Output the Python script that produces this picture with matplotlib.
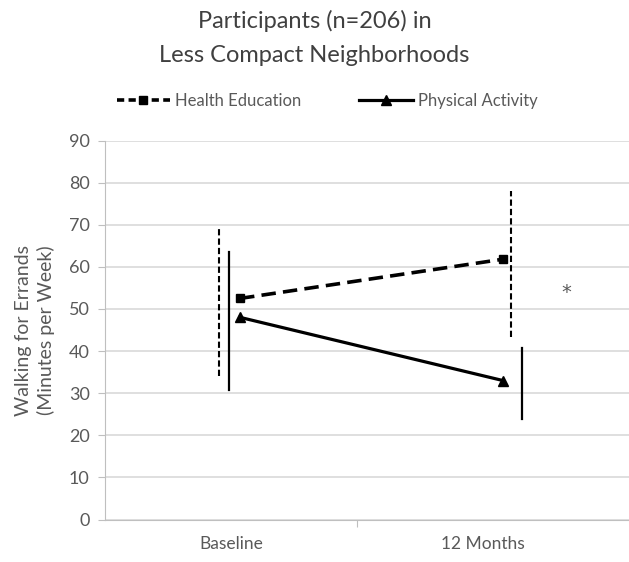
import matplotlib
matplotlib.use("Agg")
import matplotlib.pyplot as plt
from matplotlib.lines import Line2D

# Data
categories = ["Baseline", "12 Months"]
health_ed = [52.5, 61.8]
physical_act = [48.0, 33.0]
health_ed_low = [34.0, 43.3]
health_ed_high = [69.0, 78.0]
physical_act_low = [30.8, 23.8]
physical_act_high = [63.5, 40.7]
significance_mark = "*"
significance_y = 54.0

# Horizontal positions (category centres at 0.5 and 1.5)
cat_pos = [0.5, 1.5]
point_pos = [0.536, 1.579]
he_bar_pos = [0.452, 1.611]
pa_bar_pos = [0.492, 1.655]
star_pos = 1.829

plt.rcParams['font.family'] = ['Lato', 'DejaVu Sans']
text_color = "#595959"

fig = plt.figure(figsize=(6.29, 5.62), dpi=100)
ax = fig.add_axes([105 / 629, (562 - 519.5) / 562, 524 / 629, 379 / 562])

ax.set_ylim(0, 90)
ax.set_xlim(0, 524 / 252)
ax.set_yticks(range(0, 91, 10))
ax.yaxis.grid(True, color="#d9d9d9", linewidth=1.2)
ax.set_axisbelow(True)

for side in ["top", "right"]:
    ax.spines[side].set_visible(False)
ax.spines["left"].set_color("#bfbfbf")
ax.spines["bottom"].set_color("#bfbfbf")
ax.tick_params(axis="y", colors="#bfbfbf", labelcolor=text_color,
               labelsize=13, length=5, pad=6)
ax.set_xticks([1.0])
ax.set_xticklabels([])
ax.tick_params(axis="x", colors="#bfbfbf", length=5)
for x, lab in zip(cat_pos, categories):
    ax.text(x, -4.0, lab, ha="center", va="top", fontsize=12.5,
            color=text_color)

# Confidence intervals
for x, lo, hi in zip(he_bar_pos, health_ed_low, health_ed_high):
    ax.plot([x, x], [lo, hi], color="black", linewidth=1.5,
            linestyle=(0, (3, 1.5)))
for x, lo, hi in zip(pa_bar_pos, physical_act_low, physical_act_high):
    ax.plot([x, x], [lo, hi], color="black", linewidth=1.6)

# Mean lines
ax.plot(point_pos, health_ed, color="black", linewidth=2.6,
        linestyle=(0, (4, 2)), marker="s", markersize=6)
ax.plot(point_pos, physical_act, color="black", linewidth=2.3,
        marker="^", markersize=7)

ax.text(star_pos, significance_y, significance_mark, ha="center",
        va="center", fontsize=14, color=text_color, family="DejaVu Sans")

ax.set_ylabel("Walking for Errands\n(Minutes per Week)", fontsize=14,
              color=text_color, labelpad=10, linespacing=1.3)

fig.text(0.5, 0.963, "Participants (n=206) in", ha="center", va="center",
         fontsize=17, color="#404040")
fig.text(0.5, 0.901, "Less Compact Neighborhoods", ha="center",
         va="center", fontsize=17, color="#404040")

handles = [
    Line2D([], [], color="black", linewidth=2.6, linestyle=(0, (2, 1.2)),
           marker="s", markersize=6),
    Line2D([], [], color="black", linewidth=2.3, marker="^", markersize=7),
]
fig.legend(handles, ["Health Education", "Physical Activity"],
           loc="center", bbox_to_anchor=(0.52, 0.821), ncol=2, frameon=False,
           fontsize=12, labelcolor=text_color, handlelength=3.2,
           handletextpad=0.3, columnspacing=3.5)

fig.savefig("out.png", dpi=100)
